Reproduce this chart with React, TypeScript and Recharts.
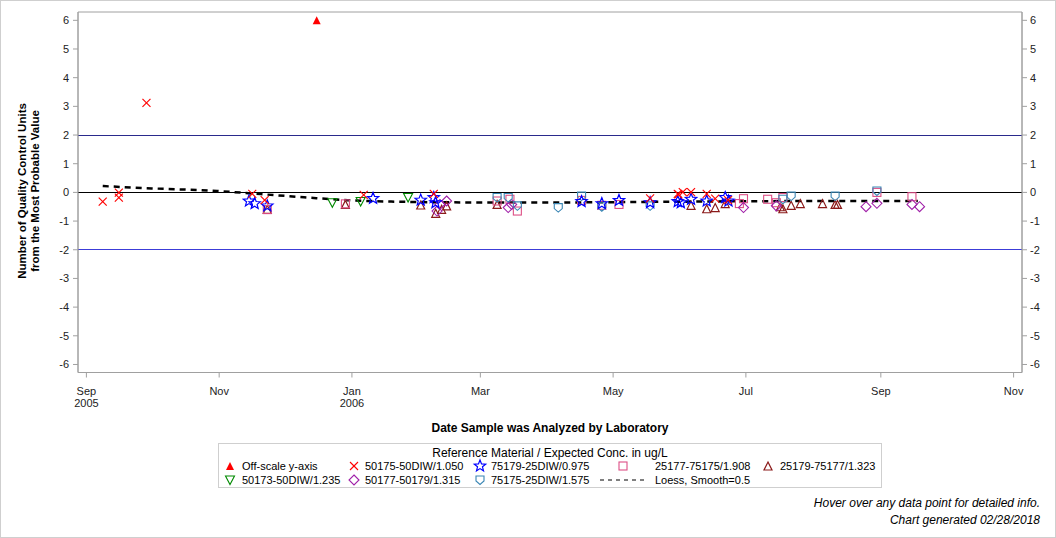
import React from 'react';
import {
  ComposedChart,
  Scatter,
  Line,
  XAxis,
  YAxis,
  ReferenceLine,
  ReferenceArea,
} from 'recharts';

// x values are days since Sep 1, 2005
const xTickDays = [0, 61, 122, 181, 242, 303, 365, 426];
const xTickMonth = ['Sep', 'Nov', 'Jan', 'Mar', 'May', 'Jul', 'Sep', 'Nov'];
const xTickYear = ['2005', '', '2006', '', '', '', '', ''];
const yTicks = [-6, -5, -4, -3, -2, -1, 0, 1, 2, 3, 4, 5, 6];

const offScaleDays = [105.8];
const offScaleVals = [6];

const s50175Days = [7.5, 14.9, 14.9, 27.6, 76.2, 81.9, 127.4, 159.6, 259, 271.7, 272, 274, 277.8, 285, 288.9, 294.8];
const s50175Vals = [-0.32, -0.01, -0.18, 3.12, -0.05, -0.27, -0.09, -0.05, -0.21, -0.05, -0.07, 0.01, 0.01, -0.05, -0.22, -0.27];

const s75179Days = [74.7, 77.3, 83.1, 131.7, 153.6, 159.6, 160.4, 227.5, 236.8, 244.7, 259, 271.7, 273.1, 277.8, 285, 293.5, 295];
const s75179Vals = [-0.3, -0.39, -0.47, -0.21, -0.27, -0.18, -0.36, -0.32, -0.39, -0.28, -0.36, -0.32, -0.36, -0.24, -0.3, -0.18, -0.3];

const s25177Days = [83.1, 119, 188.7, 194.6, 198, 227.5, 236.8, 244.7, 300, 301.9, 313, 317, 320, 363.2, 379.3];
const s25177Vals = [-0.6, -0.4, -0.3, -0.24, -0.65, -0.28, -0.45, -0.42, -0.39, -0.22, -0.24, -0.36, -0.18, 0.0, -0.15];

const s25179Days = [83.1, 119, 153.6, 160.5, 163.2, 165.5, 188.7, 277.8, 285, 288.9, 293.5, 318.8, 320, 323.8, 328, 338.2, 344, 345.1];
const s25179Vals = [-0.59, -0.42, -0.44, -0.73, -0.59, -0.47, -0.42, -0.45, -0.57, -0.53, -0.39, -0.5, -0.57, -0.45, -0.39, -0.39, -0.42, -0.42];

const s50173Days = [113, 126, 147.8];
const s50173Vals = [-0.36, -0.32, -0.18];

const s50177Days = [161.1, 162.4, 165.5, 193.8, 195.4, 301.9, 317, 358.2, 363.2, 379.3, 382.8];
const s50177Vals = [-0.65, -0.42, -0.3, -0.53, -0.42, -0.53, -0.47, -0.5, -0.38, -0.42, -0.5];

const s75175Days = [188.7, 193.8, 198, 216.8, 227.5, 236.8, 259, 320, 323.8, 344, 363.2];
const s75175Vals = [-0.18, -0.18, -0.47, -0.53, -0.13, -0.5, -0.47, -0.24, -0.13, -0.13, 0.05];

const loessDays = [7.5, 30, 60, 80, 100, 120, 140, 180, 220, 260, 300, 340, 382];
const loessVals = [0.22, 0.14, 0.05, -0.06, -0.17, -0.27, -0.32, -0.35, -0.35, -0.33, -0.31, -0.3, -0.3];

const zip = (xs: number[], ys: number[]) => xs.map((x, i) => ({ x, y: ys[i] }));

const C_RED = '#FF0000';
const C_BLUE = '#0000FF';
const C_PINK = '#DD4F86';
const C_DARKRED = '#8B1A1A';
const C_GREEN = '#008A00';
const C_PURPLE = '#A020A8';
const C_TEAL = '#3A86B4';
const AXIS = '#A0A0A0';
const FONT = '"Liberation Sans", Arial, sans-serif';

type P = { cx?: number; cy?: number };

const XMark = (cx: number, cy: number) => (
  <g stroke={C_RED} strokeWidth={1.1}>
    <line x1={cx - 4} y1={cy - 4} x2={cx + 4} y2={cy + 4} />
    <line x1={cx - 4} y1={cy + 4} x2={cx + 4} y2={cy - 4} />
  </g>
);
const starPts = (cx: number, cy: number, ro: number, ri: number) => {
  const pts: string[] = [];
  for (let i = 0; i < 10; i++) {
    const r = i % 2 === 0 ? ro : ri;
    const a = -Math.PI / 2 + (i * Math.PI) / 5;
    pts.push(`${cx + r * Math.cos(a)},${cy + r * Math.sin(a)}`);
  }
  return pts.join(' ');
};
const StarMark = (cx: number, cy: number) => (
  <polygon points={starPts(cx, cy, 6, 2.6)} fill="none" stroke={C_BLUE} strokeWidth={1.2} />
);
const SquareMark = (cx: number, cy: number) => (
  <rect x={cx - 4} y={cy - 4} width={8} height={8} fill="none" stroke={C_PINK} strokeWidth={1.1} />
);
const UpTriMark = (cx: number, cy: number) => (
  <polygon points={`${cx},${cy - 4} ${cx + 4},${cy + 4} ${cx - 4},${cy + 4}`} fill="none" stroke={C_DARKRED} strokeWidth={1.2} />
);
const DownTriMark = (cx: number, cy: number) => (
  <polygon points={`${cx - 4.5},${cy - 4} ${cx + 4.5},${cy - 4} ${cx},${cy + 4.5}`} fill="none" stroke={C_GREEN} strokeWidth={1.1} />
);
const DiamondMark = (cx: number, cy: number) => (
  <polygon points={`${cx},${cy - 5} ${cx + 5},${cy} ${cx},${cy + 5} ${cx - 5},${cy}`} fill="none" stroke={C_PURPLE} strokeWidth={1.1} />
);
const ShieldMark = (cx: number, cy: number) => (
  <polygon points={`${cx - 4},${cy - 4} ${cx + 4},${cy - 4} ${cx + 4},${cy + 1} ${cx},${cy + 4.5} ${cx - 4},${cy + 1}`} fill="none" stroke={C_TEAL} strokeWidth={1.1} />
);
const FilledTriMark = (cx: number, cy: number) => (
  <polygon points={`${cx},${cy - 4} ${cx + 4},${cy + 4} ${cx - 4},${cy + 4}`} fill={C_RED} stroke="none" />
);

const shapeOf = (fn: (cx: number, cy: number) => React.ReactElement) => (props: P) =>
  fn(props.cx ?? 0, props.cy ?? 0);

const XTick = (props: any) => {
  const { x, y, payload } = props;
  const i = xTickDays.indexOf(payload.value);
  return (
    <g transform={`translate(${x},${y})`}>
      <text x={0} y={0} dy={15} textAnchor="middle" fontSize={11} fontFamily={FONT} fill="#222">
        {xTickMonth[i]}
      </text>
      {xTickYear[i] ? (
        <text x={0} y={0} dy={27} textAnchor="middle" fontSize={11} fontFamily={FONT} fill="#222">
          {xTickYear[i]}
        </text>
      ) : null}
    </g>
  );
};

const legendRow1 = [
  { mark: FilledTriMark, label: 'Off-scale y-axis', sx: 230, tx: 242 },
  { mark: XMark, label: '50175-50DIW/1.050', sx: 354, tx: 365 },
  { mark: StarMark, label: '75179-25DIW/0.975', sx: 480, tx: 491 },
  { mark: SquareMark, label: '25177-75175/1.908', sx: 623, tx: 655 },
  { mark: UpTriMark, label: '25179-75177/1.323', sx: 768, tx: 780 },
];
const legendRow2 = [
  { mark: DownTriMark, label: '50173-50DIW/1.235', sx: 230, tx: 242 },
  { mark: DiamondMark, label: '50177-50179/1.315', sx: 354, tx: 365 },
  { mark: ShieldMark, label: '75175-25DIW/1.575', sx: 480, tx: 491 },
];

export default function App() {
  const xDomain: [number, number] = [-3.86, 429.86];
  const yDomain: [number, number] = [-6.28, 6.29];
  return (
    <div style={{ position: 'fixed', left: 0, top: 0, width: 1056, height: 538, background: '#fff' }}>
      <ComposedChart
        width={1056}
        height={538}
        margin={{ top: 12, right: 0, bottom: 135.5, left: 0 }}
      >
        <XAxis
          type="number"
          dataKey="x"
          domain={xDomain}
          ticks={xTickDays}
          tick={XTick}
          tickSize={5}
          height={30}
          stroke={AXIS}
          axisLine={{ stroke: AXIS }}
          tickLine={{ stroke: AXIS }}
          allowDataOverflow
        />
        <YAxis
          yAxisId="left"
          type="number"
          dataKey="y"
          domain={yDomain}
          ticks={yTicks}
          width={78}
          tickSize={5}
          tickMargin={4}
          axisLine={{ stroke: AXIS }}
          tickLine={{ stroke: AXIS }}
          tick={{ fontSize: 11, fontFamily: FONT, fill: '#222' }}
          allowDataOverflow
        />
        <YAxis
          yAxisId="right"
          orientation="right"
          type="number"
          domain={yDomain}
          ticks={yTicks}
          width={34}
          tickSize={5}
          tickMargin={3}
          axisLine={{ stroke: AXIS }}
          tickLine={{ stroke: AXIS }}
          tick={{ fontSize: 11, fontFamily: FONT, fill: '#222', textAnchor: 'start' }}
          allowDataOverflow
        />
        <ReferenceArea yAxisId="left" x1={xDomain[0]} x2={xDomain[1]} y1={yDomain[0]} y2={yDomain[1]} fill="none" stroke={AXIS} strokeOpacity={1} />
        <ReferenceLine yAxisId="left" y={2} stroke="#2A2A8C" strokeWidth={1} shapeRendering="crispEdges" />
        <ReferenceLine yAxisId="left" y={-2} stroke="#3C3CD8" strokeWidth={1} shapeRendering="crispEdges" />
        <ReferenceLine yAxisId="left" y={0} stroke="#000" strokeWidth={1} shapeRendering="crispEdges" />
        <Line
          yAxisId="left"
          data={zip(loessDays, loessVals)}
          dataKey="y"
          type="monotone"
          stroke="#000"
          strokeWidth={2.5}
          strokeDasharray="6 5"
          dot={false}
          activeDot={false}
          isAnimationActive={false}
          name="Loess, Smooth=0.5"
        />
        <Scatter yAxisId="left" name="25179-75177/1.323" data={zip(s25179Days, s25179Vals)} shape={shapeOf(UpTriMark)} isAnimationActive={false} />
        <Scatter yAxisId="left" name="25177-75175/1.908" data={zip(s25177Days, s25177Vals)} shape={shapeOf(SquareMark)} isAnimationActive={false} />
        <Scatter yAxisId="left" name="50177-50179/1.315" data={zip(s50177Days, s50177Vals)} shape={shapeOf(DiamondMark)} isAnimationActive={false} />
        <Scatter yAxisId="left" name="75175-25DIW/1.575" data={zip(s75175Days, s75175Vals)} shape={shapeOf(ShieldMark)} isAnimationActive={false} />
        <Scatter yAxisId="left" name="50173-50DIW/1.235" data={zip(s50173Days, s50173Vals)} shape={shapeOf(DownTriMark)} isAnimationActive={false} />
        <Scatter yAxisId="left" name="75179-25DIW/0.975" data={zip(s75179Days, s75179Vals)} shape={shapeOf(StarMark)} isAnimationActive={false} />
        <Scatter yAxisId="left" name="50175-50DIW/1.050" data={zip(s50175Days, s50175Vals)} shape={shapeOf(XMark)} isAnimationActive={false} />
        <Scatter yAxisId="left" name="Off-scale y-axis" data={zip(offScaleDays, offScaleVals)} shape={shapeOf(FilledTriMark)} isAnimationActive={false} />
      </ComposedChart>
      <svg
        width={1056}
        height={538}
        style={{ position: 'absolute', left: 0, top: 0, pointerEvents: 'none' }}
        fontFamily={FONT}
      >
        <rect x={0.5} y={0.5} width={1055} height={537} fill="none" stroke="#cfcfcf" />
        <text transform="translate(26,191) rotate(-90)" textAnchor="middle" fontSize={11.5} fontWeight="bold" fill="#000">
          Number of Quality Control Units
        </text>
        <text transform="translate(39,191) rotate(-90)" textAnchor="middle" fontSize={11.5} fontWeight="bold" fill="#000">
          from the Most Probable Value
        </text>
        <text x={550} y={432} textAnchor="middle" fontSize={12} fontWeight="bold" fill="#000">
          Date Sample was Analyzed by Laboratory
        </text>
        <rect x={218.5} y={443.5} width={663} height={44} fill="none" stroke="#cfcfcf" />
        <text x={550} y={457} textAnchor="middle" fontSize={12} fill="#000">
          Reference Material / Expected Conc. in ug/L
        </text>
        {legendRow1.map((it, i) => (
          <g key={`r1${i}`}>
            {it.mark(it.sx, 466)}
            <text x={it.tx} y={470} fontSize={11} fill="#000">{it.label}</text>
          </g>
        ))}
        {legendRow2.map((it, i) => (
          <g key={`r2${i}`}>
            {it.mark(it.sx, 480)}
            <text x={it.tx} y={484} fontSize={11} fill="#000">{it.label}</text>
          </g>
        ))}
        <line x1={600} y1={480} x2={648} y2={480} stroke="#000" strokeWidth={1} strokeDasharray="4 4" />
        <text x={655} y={484} fontSize={11} fill="#000">Loess, Smooth=0.5</text>
        <text x={1040} y={507} textAnchor="end" fontSize={12} fontStyle="italic" fill="#000">
          Hover over any data point for detailed info.
        </text>
        <text x={1040} y={524} textAnchor="end" fontSize={12} fontStyle="italic" fill="#000">
          Chart generated 02/28/2018
        </text>
      </svg>
    </div>
  );
}
